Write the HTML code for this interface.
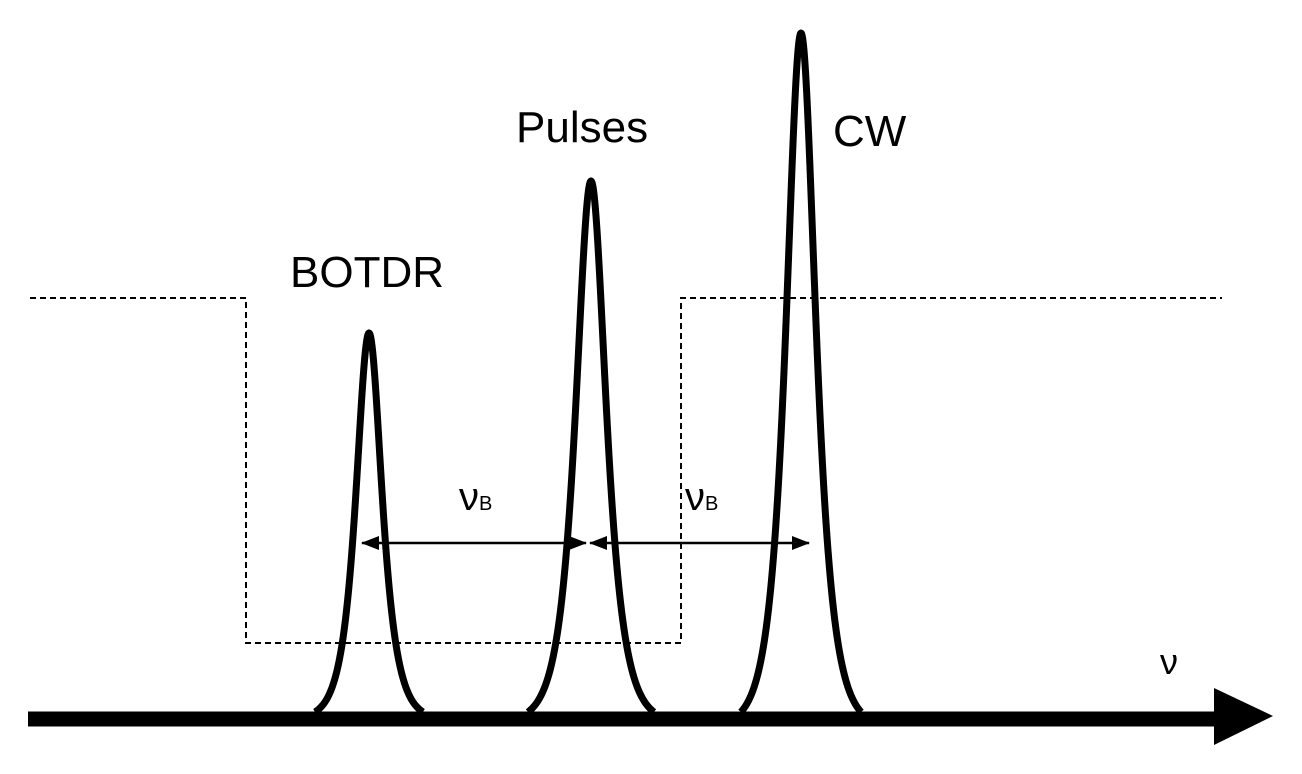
<!DOCTYPE html>
<html><head><meta charset="utf-8"><style>
html,body{margin:0;padding:0;background:#fff;width:1302px;height:774px;overflow:hidden}
svg text{font-family:"Liberation Sans","DejaVu Sans",sans-serif;fill:#000}
</style></head><body>
<svg id="s" width="1302" height="774" viewBox="0 0 1302 774" xmlns="http://www.w3.org/2000/svg">
<defs>
<marker id="ah" markerWidth="18" markerHeight="14" refX="17" refY="7" orient="auto-start-reverse" markerUnits="userSpaceOnUse"><path d="M0,0 L18,7 L0,14 z"/></marker>
</defs>
<path d="M30,298 H246 V643 H681 V298 H1222" fill="none" stroke="#000" stroke-width="2" stroke-dasharray="6,4"/>
<g id="peaks" fill="none" stroke="#000" stroke-width="7" stroke-linejoin="round"></g>
<line x1="28" y1="719" x2="1218" y2="719" stroke="#000" stroke-width="15"/>
<path d="M1214,688 L1273,716 L1214,745 z" fill="#000"/>
<line x1="362" y1="543" x2="586" y2="543" stroke="#000" stroke-width="2.5" marker-start="url(#ah)" marker-end="url(#ah)"/>
<line x1="590" y1="543" x2="809" y2="543" stroke="#000" stroke-width="2.5" marker-start="url(#ah)" marker-end="url(#ah)"/>
<text x="290" y="287" font-size="44">BOTDR</text>
<text x="516" y="142" font-size="44">Pulses</text>
<text x="833" y="146" font-size="44">CW</text>
<text x="459" y="510" font-size="40" font-family="DejaVu Sans">ν<tspan font-size="20">B</tspan></text>
<text x="685" y="510" font-size="40" font-family="DejaVu Sans">ν<tspan font-size="20">B</tspan></text>
<text x="1160" y="674" font-size="36" font-family="DejaVu Sans">ν</text>
</svg>
<script>
var peaks=[[369,333,11.6,54],[591,181,13.5,63],[801,33,13.2,60]];
var g=document.getElementById('peaks'),b=712;
peaks.forEach(function(p){
 var c=p[0],t=p[1],s=p[2],w=p[3],H=b-t,d='',m=1/Math.cosh(w/s);
 for(var dx=-w;dx<=w+0.01;dx+=0.5){
  var f=(1/Math.cosh(dx/s)-m)/(1-m);
  var y=b-H*f;
  d+=(d?'L':'M')+(c+dx).toFixed(1)+','+y.toFixed(1);
 }
 var e=document.createElementNS('http://www.w3.org/2000/svg','path');
 e.setAttribute('d',d);g.appendChild(e);
});
</script>
</body></html>
